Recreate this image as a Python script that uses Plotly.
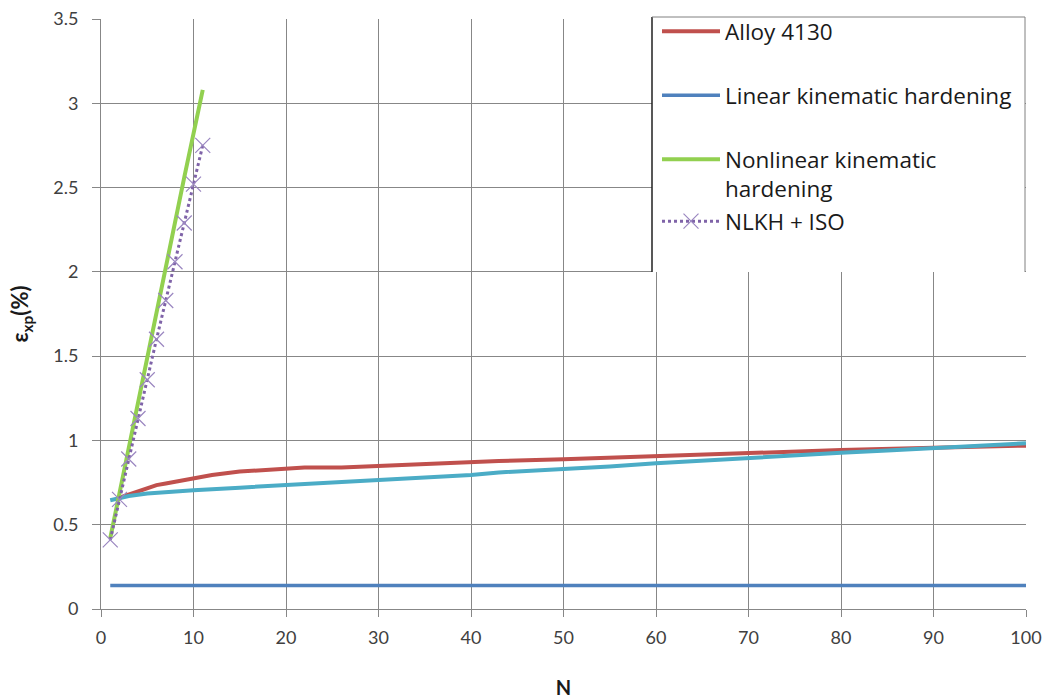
import plotly.graph_objects as go

# ---- data ----
n_alloy = [2, 3, 4, 5, 6, 7, 8, 10, 12, 15, 18, 20, 22, 26, 30, 35, 40, 43, 50, 60, 70, 80, 90, 100]
alloy = [0.66, 0.68, 0.70, 0.72, 0.735, 0.745, 0.755, 0.78, 0.795, 0.815, 0.825, 0.834, 0.84, 0.84,
         0.85, 0.86, 0.87, 0.878, 0.888, 0.907, 0.927, 0.943, 0.957, 0.969]

n_lin = [1, 100]
lin_kin = [0.14, 0.14]

n_nl = [1, 2, 3, 4, 5, 6, 7, 8, 9, 10, 11]
nl_kin = [0.42, 0.69, 0.96, 1.23, 1.50, 1.77, 2.03, 2.30, 2.56, 2.82, 3.08]
nlkh_iso = [0.41, 0.65, 0.89, 1.13, 1.36, 1.60, 1.83, 2.06, 2.29, 2.52, 2.75]

n_cyan = [1, 2, 3, 5, 7, 10, 15, 20, 25, 30, 35, 40, 43, 50, 55, 60, 65, 70, 75, 80, 85, 90, 95, 100]
cyan_vals = [0.645, 0.66, 0.67, 0.685, 0.695, 0.705, 0.72, 0.735, 0.75, 0.765, 0.78, 0.795, 0.81,
             0.829, 0.845, 0.864, 0.88, 0.90, 0.913, 0.927, 0.94, 0.955, 0.97, 0.983]

names = ["Alloy 4130", "Linear kinematic hardening", "Nonlinear kinematic<br>hardening", "NLKH + ISO"]

FONT = "Lato"
LFONT = "Open Sans"
TXT = "#404040"
GRID = "#878787"

fig = go.Figure()
fig.add_trace(go.Scatter(x=n_alloy, y=alloy, mode="lines", name=names[0],
                         line=dict(color="#C0504D", width=4), legend="legend"))
fig.add_trace(go.Scatter(x=n_lin, y=lin_kin, mode="lines", name=names[1],
                         line=dict(color="#4F81BD", width=3.5), legend="legend2"))
fig.add_trace(go.Scatter(x=n_cyan, y=cyan_vals, mode="lines", name="cyan",
                         line=dict(color="#4BACC6", width=4), showlegend=False))
fig.add_trace(go.Scatter(x=n_nl, y=nl_kin, mode="lines", name=names[2],
                         line=dict(color="#92D050", width=4), legend="legend3"))
fig.add_trace(go.Scatter(x=n_nl, y=nlkh_iso, mode="lines+markers", name=names[3],
                         line=dict(color="#7F63A8", width=3, dash="dot"),
                         marker=dict(symbol="x-thin", size=15, color="#9A86C0",
                                     line=dict(width=1.2, color="#9A86C0")),
                         legend="legend4"))

# geometry helpers for legend placement (plot area: x 101..1026, y 19..609 px)
def px_x(p):
    return (p - 101) / 925.0

def px_y(p):
    return (609 - p) / 590.0

leg_common = dict(bgcolor="rgba(0,0,0,0)", borderwidth=0, font=dict(family=LFONT, size=22.5, color="#1a1a1a"),
                  xanchor="left", yanchor="top", valign="top", itemwidth=58)
legend_tops = [10, 74, 138, 200]
layout_legends = {}
for i, key in enumerate(["legend", "legend2", "legend3", "legend4"]):
    layout_legends[key] = dict(x=px_x(657), y=px_y(legend_tops[i]), **leg_common)

fig.update_layout(
    width=1046, height=699,
    margin=dict(l=101, r=20, t=19, b=90, autoexpand=False),
    paper_bgcolor="white", plot_bgcolor="white",
    font=dict(family=FONT, color=TXT),
    xaxis=dict(range=[0, 100], dtick=10, tick0=0, showgrid=True, gridcolor=GRID, gridwidth=1,
               showline=True, linecolor=GRID, linewidth=1, ticks="outside", ticklen=7, tickcolor=GRID,
               zeroline=False, tickfont=dict(family=FONT, size=18, color=TXT), ticklabelstandoff=5,
               automargin=False,
               title=dict(text="<b>N</b>", font=dict(family=FONT, size=20, color="#1a1a1a"), standoff=34)),
    yaxis=dict(range=[0, 3.5], dtick=0.5, tick0=0, showgrid=True, gridcolor=GRID, gridwidth=1,
               showline=True, linecolor=GRID, linewidth=1, ticks="outside", ticklen=8, tickcolor=GRID,
               zeroline=False, tickfont=dict(family=FONT, size=18, color=TXT), ticklabelstandoff=10,
               automargin=False,
               title=dict(text="<b>ε<sub>xp</sub>(%)</b>", font=dict(family=FONT, size=22, color="#1a1a1a"),
                          standoff=18)),
    **layout_legends,
)

# legend frame
fig.add_shape(type="rect", xref="paper", yref="paper", x0=px_x(652), x1=px_x(1025),
              y0=px_y(272), y1=px_y(17), fillcolor="white", line=dict(width=0), layer="above")
fig.add_shape(type="line", xref="paper", yref="paper", x0=px_x(652), x1=px_x(652),
              y0=px_y(272), y1=px_y(17), line=dict(color="#202020", width=1.5), layer="above")
fig.add_shape(type="line", xref="paper", yref="paper", x0=px_x(652), x1=px_x(1025),
              y0=px_y(17), y1=px_y(17), line=dict(color="#808080", width=1), layer="above")
fig.add_shape(type="line", xref="paper", yref="paper", x0=px_x(1025), x1=px_x(1025),
              y0=px_y(272), y1=px_y(17), line=dict(color="#808080", width=1), layer="above")

fig.write_html("out.html")
